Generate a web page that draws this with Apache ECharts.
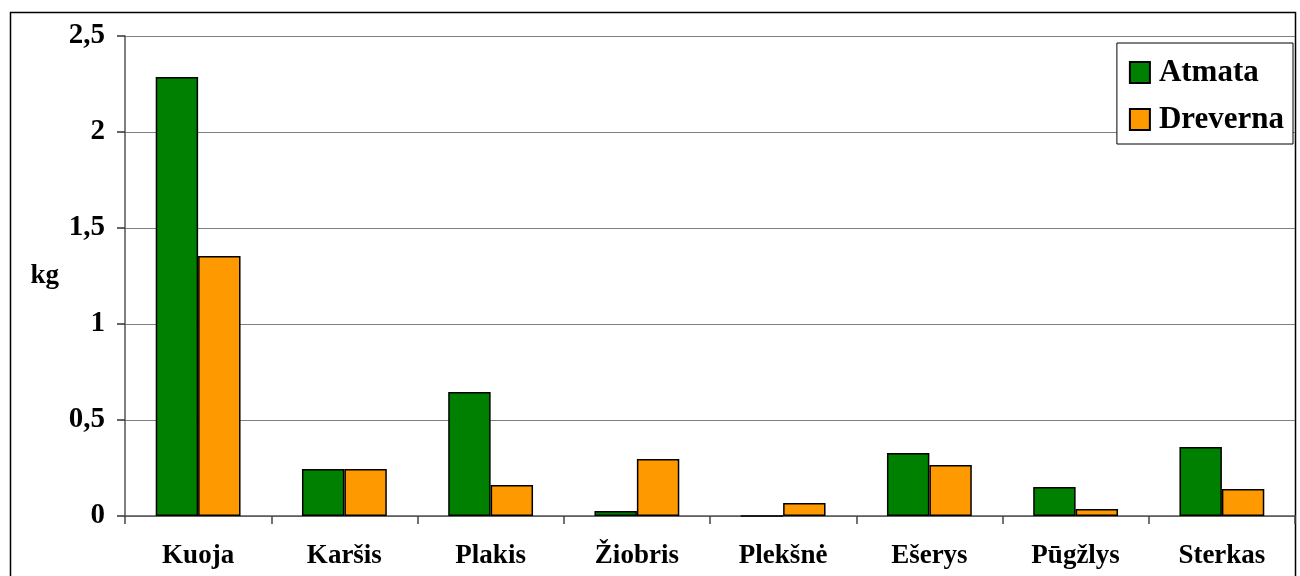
<!DOCTYPE html>
<html><head><meta charset="utf-8">
<script src="https://cdn.jsdelivr.net/npm/echarts@6/dist/echarts.min.js"></script>
<style>html,body{margin:0;padding:0;background:#fff}#c{width:1300px;height:576px}</style>
</head><body><div id="c"></div>
<script>
const categories = ['Kuoja','Karšis','Plakis','Žiobris','Plekšnė','Ešerys','Pūgžlys','Sterkas'];
const atmata = [2.286, 0.245, 0.646, 0.026, 0, 0.328, 0.151, 0.359];
const dreverna = [1.354, 0.245, 0.161, 0.297, 0.068, 0.266, 0.036, 0.141];
const seriesNames = ['Atmata','Dreverna'];
const yTicks = [0, 0.5, 1, 1.5, 2, 2.5];

const font = '"Liberation Serif", "Times New Roman", serif';
const chart = echarts.init(document.getElementById('c'));
chart.setOption({
  animation: false,
  backgroundColor: '#fff',
  textStyle: { fontFamily: font },
  graphic: [{
    type: 'rect', silent: true, z: -10,
    shape: { x: 10.5, y: 12.5, width: 1285, height: 600 },
    style: { fill: 'none', stroke: '#000', lineWidth: 1.5 }
  }],
  grid: { left: 125, right: 5, top: 36, bottom: 60 },
  legend: {
    data: seriesNames,
    orient: 'vertical',
    right: 7, top: 43,
    padding: [14, 9, 9, 12],
    itemWidth: 20, itemHeight: 21, itemGap: 16,
    backgroundColor: '#fff',
    borderColor: '#000', borderWidth: 1,
    icon: 'rect',
    textStyle: { fontFamily: font, fontWeight: 'bold', fontSize: 31, color: '#000', padding: [0,0,0,4] }
  },
  xAxis: {
    type: 'category', data: categories,
    axisLine: { lineStyle: { color: '#555', width: 1.5 } },
    axisTick: { show: true, length: 8, lineStyle: { color: '#444', width: 1.5 } },
    axisLabel: { fontFamily: font, fontWeight: 'bold', fontSize: 27, color: '#000', margin: 27 }
  },
  yAxis: {
    type: 'value', min: 0, max: 2.5, interval: 0.5,
    name: 'kg', nameLocation: 'middle', nameRotate: 0, nameGap: 66,
    nameTextStyle: { fontFamily: font, fontWeight: 'bold', fontSize: 27, color: '#000' },
    axisLine: { show: true, lineStyle: { color: '#555', width: 1.5 } },
    axisTick: { show: true, length: 8, lineStyle: { color: '#333', width: 1.5 } },
    splitLine: { show: true, lineStyle: { color: '#808080', width: 1.2 } },
    axisLabel: { fontFamily: font, fontWeight: 'bold', fontSize: 29, color: '#000', margin: 20,
      formatter: v => yTicks.includes(v) ? String(v).replace('.', ',') : '' }
  },
  series: [
    { name: seriesNames[0], type: 'bar', data: atmata, barGap: '0%', barCategoryGap: '42%',
      itemStyle: { color: '#008000', borderColor: '#000', borderWidth: 1.5 } },
    { name: seriesNames[1], type: 'bar', data: dreverna,
      itemStyle: { color: '#FF9900', borderColor: '#000', borderWidth: 1.5 } }
  ]
});
</script></body></html>
